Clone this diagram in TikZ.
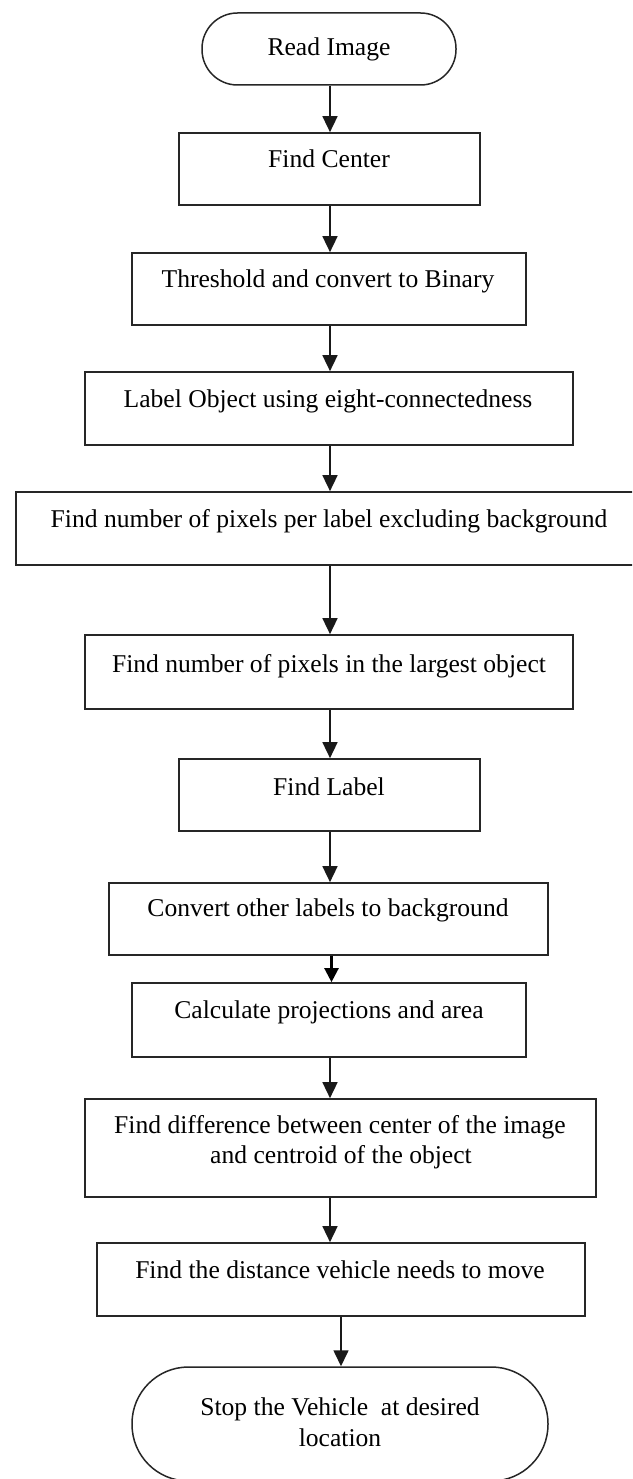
\documentclass[tikz,border=0pt]{standalone}
\usepackage{fontspec}
\setmainfont{Liberation Serif}
\usetikzlibrary{arrows.meta}
\begin{document}
\begin{tikzpicture}[x=1pt,y=-1pt,
  box/.style={draw=black!85, line width=1.7pt, rectangle, inner sep=0pt},
  term/.style={draw=black!85, line width=1.5pt, rectangle, inner sep=0pt},
  txt/.style={anchor=base, inner sep=0pt, text=black, font=\fontsize{25.6pt}{30pt}\selectfont},
  arr/.style={draw=black!90, line width=1.6pt, -{Triangle[length=16pt,width=15pt]}},
  thickarr/.style={draw=black, line width=2.4pt, -{Triangle[length=14pt,width=14pt]}}]
\useasboundingbox (0,0) rectangle (632,1479);
\clip (0,0) rectangle (632,1479);
\fill[white] (0,0) rectangle (632,1479);

% shapes
\node[term, rounded corners=35.5pt, minimum width=254pt, minimum height=72pt] (read) at (329,49) {};
\node[box, minimum width=301pt, minimum height=72pt] (center) at (329.5,169) {};
\node[box, minimum width=394pt, minimum height=72pt] (thresh) at (329,289) {};
\node[box, minimum width=488pt, minimum height=73pt] (labelobj) at (329,408.5) {};
\node[box, minimum width=634pt, minimum height=73pt] (wide) at (333,528.5) {};
\node[box, minimum width=488pt, minimum height=74pt] (largest) at (329,672) {};
\node[box, minimum width=301pt, minimum height=72pt] (findlabel) at (329.5,795) {};
\node[box, minimum width=439pt, minimum height=72pt] (convert) at (328.5,919) {};
\node[box, minimum width=394pt, minimum height=74pt] (calc) at (329,1020) {};
\node[box, minimum width=511pt, minimum height=98pt] (diff) at (340.5,1148) {};
\node[box, minimum width=488pt, minimum height=73pt] (dist) at (341,1279.5) {};
\node[term, rounded corners=56.5pt, minimum width=416pt, minimum height=114pt] (stop) at (340,1424) {};

% texts
\node[txt] (t1) at (329,56) {Read Image};
\node[txt] (t2) at (329,168) {Find Center};
\node[txt] (t3) at (328,287) {Threshold and convert to Binary};
\node[txt] (t4) at (328,407) {Label Object using eight-connectedness};
\node[txt] (t5) at (329,527) {Find number of pixels per label excluding background};
\node[txt] (t6) at (329,672) {Find number of pixels in the largest object};
\node[txt] (t7) at (329,795) {Find Label};
\node[txt] (t8) at (328,916) {Convert other labels to background};
\node[txt] (t9) at (329,1018) {Calculate projections and area};
\node[txt] (t10a) at (340,1133) {Find difference between center of the image};
\node[txt] (t10b) at (341,1163) {and centroid of the object};
\node[txt] (t11) at (340,1278) {Find the distance vehicle needs to move};
\node[txt] (t12a) at (340,1415) {Stop the Vehicle\ \ at desired};
\node[txt] (t12b) at (340,1446) {location};

% connectors
\coordinate (ax) at (330,0);
\draw[arr] (read.south -| ax) -- (center.north -| ax);
\draw[arr] (center.south -| ax) -- (thresh.north -| ax);
\draw[arr] (thresh.south -| ax) -- (labelobj.north -| ax);
\draw[arr] (labelobj.south -| ax) -- (wide.north -| ax);
\draw[arr] (wide.south -| ax) -- (largest.north -| ax);
\draw[arr] (largest.south -| ax) -- (findlabel.north -| ax);
\draw[arr] (findlabel.south -| ax) -- (convert.north -| ax);
\draw[thickarr] ([xshift=1.5pt]convert.south -| ax) -- ([xshift=1.5pt]calc.north -| ax);
\draw[arr] (calc.south -| ax) -- (diff.north -| ax);
\draw[arr] (diff.south -| ax) -- (dist.north -| ax);
\draw[arr] (dist.south) -- (dist.south |- stop.north);
\end{tikzpicture}
\end{document}
